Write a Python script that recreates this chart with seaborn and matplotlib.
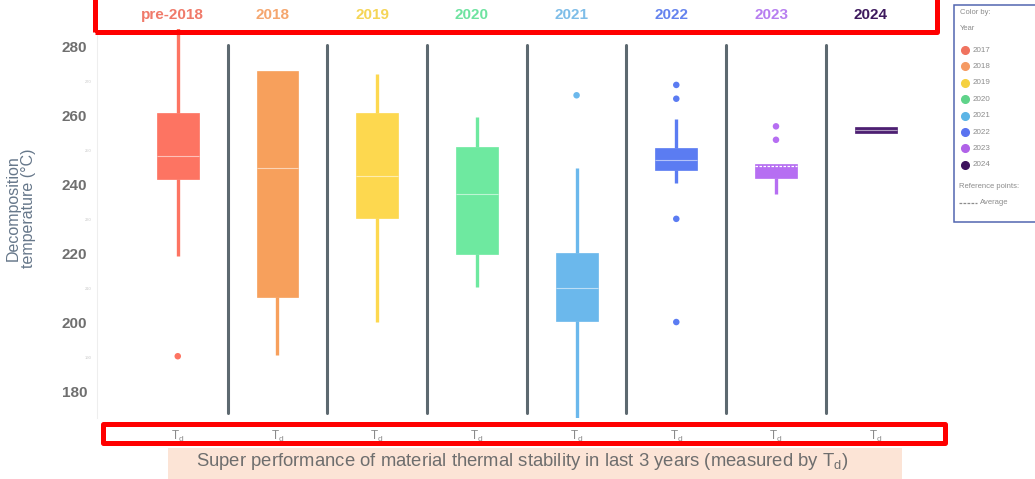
import matplotlib
matplotlib.use("Agg")
import matplotlib.pyplot as plt
import seaborn as sns
import pandas as pd
from matplotlib.patches import Rectangle
from matplotlib.lines import Line2D
from matplotlib.transforms import blended_transform_factory

# ---------------- data ----------------
categories = ["pre-2018", "2018", "2019", "2020", "2021", "2022", "2023", "2024"]
legend_years = ["2017", "2018", "2019", "2020", "2021", "2022", "2023", "2024"]
box_colors = ["#fd7462", "#f7a05c", "#fdd84f", "#6ee9a0", "#6bb8ec", "#5b7cf2", "#b66ef2", "#4d1f72"]
label_colors = ["#f07a6a", "#f5a66e", "#f5d556", "#6ee3a0", "#7ebde8", "#6583ee", "#b77ef0", "#3e1a5e"]
legend_colors = ["#f0735f", "#f59a63", "#f5d13f", "#5fd38a", "#5cb5e6", "#5a73f0", "#b062e8", "#3e135e"]

q1 = [241.7, 207.5, 230.3, 219.8, 200.4, 244.3, 241.9, 254.9]
med = [248.3, 244.9, 242.5, 237.2, 210.0, 247.1, 245.2, 255.8]
q3 = [260.9, 272.8, 260.9, 251.0, 220.1, 250.7, 246.0, 256.6]
whislo = [219.4, 190.6, 200.3, 210.4, 168.0, 240.4, 237.3, 254.9]
whishi = [287.0, 272.8, 272.1, 259.7, 244.9, 258.9, 246.0, 256.6]

outlier_cat = ["pre-2018", "2021", "2022", "2022", "2022", "2022", "2023", "2023"]
outlier_val = [190.3, 265.9, 268.9, 264.9, 230.1, 200.2, 256.9, 253.0]

average_cat = ["2023"]
average_val = [245.4]

y_ticks = [180, 200, 220, 240, 260, 280]
y_minor = [190, 210, 230, 250, 270]
x_tick_label = "T$_d$"
caption = "Super performance of material thermal stability in last 3 years (measured by T$_d$)"
y_title = "Decomposition\ntemperature (°C)"

# ---------------- style ----------------
sns.set_theme(style="white")
plt.rcParams["font.family"] = ["Liberation Sans", "DejaVu Sans"]
plt.rcParams["mathtext.default"] = "regular"

W, H = 1035, 479
fig = plt.figure(figsize=(W / 100, H / 100), dpi=100)

def fx(px):
    return px / W

def fy(py):
    return 1 - py / H

ax_l, ax_r, ax_t, ax_b = 97, 940, 29, 418
ax = fig.add_axes([fx(ax_l), fy(ax_b), fx(ax_r - ax_l), (ax_b - ax_t) / H])

positions = list(range(len(categories)))
stats = []
for i, c in enumerate(categories):
    stats.append(dict(q1=q1[i], med=med[i], q3=q3[i], whislo=whislo[i],
                      whishi=whishi[i], fliers=[], label=c))

bp = ax.bxp(stats, positions=positions, widths=0.42, patch_artist=True,
            showcaps=False, showfliers=False)
for i, c in enumerate(box_colors):
    bp["boxes"][i].set_facecolor(c)
    bp["boxes"][i].set_edgecolor(c)
    bp["boxes"][i].set_linewidth(0.5)
    for w in bp["whiskers"][2 * i:2 * i + 2]:
        w.set_color(c)
        w.set_linewidth(2.4)
        w.set_solid_capstyle("butt")
    m = bp["medians"][i]
    m.set_color("white")
    m.set_alpha(0.55)
    m.set_linewidth(0.8)
    if categories[i] in average_cat:
        m.set_visible(False)

# average reference lines (dashed)
for c, v in zip(average_cat, average_val):
    i = categories.index(c)
    ax.hlines(v, i - 0.21, i + 0.21, colors="white", linestyles=(0, (2, 1.2)), linewidth=0.9, zorder=5)

# outliers
odf = pd.DataFrame({"x": [categories.index(c) for c in outlier_cat],
                    "y": outlier_val, "cat": outlier_cat})
sns.scatterplot(data=odf, x="x", y="y", hue="cat",
                palette={c: box_colors[categories.index(c)] for c in categories},
                s=22, edgecolor="none", legend=False, ax=ax, zorder=4)

# separators between categories
for i in range(len(categories) - 1):
    ax.axvline(i + 0.5, ymin=(ax_b - 413) / (ax_b - ax_t), ymax=(ax_b - 45) / (ax_b - ax_t),
               color="#5d6970", linewidth=2.2, zorder=1)

ax.set_xlim(-0.81, 7.645)
ax.set_ylim(172.4, 285.1)
ax.set_xlabel("")
ax.set_ylabel("")
ax.set_yticks(y_ticks)
ax.set_yticklabels([str(t) for t in y_ticks], fontsize=11, fontweight="bold", color="#6f6f6f")
ax.set_yticks(y_minor, minor=True)
ax.set_yticklabels([str(t) for t in y_minor], minor=True, fontsize=3, color="#c8c8c8")
ax.tick_params(axis="y", which="major", length=0, pad=7)
ax.tick_params(axis="y", which="minor", length=0, pad=4)
ax.set_xticks(positions)
ax.set_xticklabels([x_tick_label] * len(categories), fontsize=8.5, color="#8a8a8a")
ax.tick_params(axis="x", length=0, pad=7.5)
for s in ["top", "right", "bottom"]:
    ax.spines[s].set_visible(False)
ax.spines["left"].set_color("#eeeeee")
ax.spines["left"].set_linewidth(0.8)
ax.grid(False)

# category titles on top
trans = blended_transform_factory(ax.transData, ax.transAxes)
for i, c in enumerate(categories):
    ax.text(i - 0.05, (ax_b - 15) / (ax_b - ax_t), c, transform=trans, ha="center", va="center",
            fontsize=11, fontweight="bold", color=label_colors[i], clip_on=False)

# y title
fig.text(fx(21), fy(208), y_title, rotation=90, ha="center", va="center",
         fontsize=11.5, color="#66778a", linespacing=1.0)

# red highlight rectangles
for (l, t, r, b) in [(94.5, -10, 936.5, 31.5), (102.5, 423.5, 944.5, 442.5)]:
    fig.add_artist(Rectangle((fx(l), fy(b)), fx(r - l), (b - t) / H, transform=fig.transFigure,
                             fill=False, edgecolor="#ff0000", linewidth=3.6, joinstyle="round",
                             clip_on=False, zorder=10))

# caption band
fig.add_artist(Rectangle((fx(168), fy(479)), fx(902 - 168), (479 - 448) / H,
                         transform=fig.transFigure, facecolor="#fce4d6", edgecolor="none", zorder=0))
fig.text(fx(522), fy(462), caption, ha="center", va="center", fontsize=13.3, color="#6e6e6e")

# legend panel
fig.add_artist(Rectangle((fx(954), fy(221.5)), fx(100), (221.5 - 5) / H, transform=fig.transFigure,
                         facecolor="white", edgecolor="#5266b0", linewidth=1.1, clip_on=False, zorder=3))
lg_txt = "#8c8c8c"
fig.text(fx(960), fy(12.7), "Color by:", fontsize=5.5, color=lg_txt, va="center", zorder=4)
fig.text(fx(960), fy(28), "Year", fontsize=5.5, color=lg_txt, va="center", zorder=4)
for k, (yr, c) in enumerate(zip(legend_years, legend_colors)):
    yy = 50 + k * 16.4
    fig.add_artist(Line2D([fx(965)], [fy(yy)], marker="o", markersize=5.5, color=c,
                          linestyle="none", transform=fig.transFigure, zorder=4))
    fig.text(fx(973), fy(yy), yr, fontsize=5.8, color=lg_txt, va="center", zorder=4)
fig.text(fx(959), fy(186), "Reference points:", fontsize=5.5, color=lg_txt, va="center", zorder=4)
fig.add_artist(Line2D([fx(959), fx(977)], [fy(203), fy(203)], color=lg_txt, linewidth=0.9,
                      linestyle=(0, (2.2, 1)), transform=fig.transFigure, zorder=4))
fig.text(fx(980), fy(203), "Average", fontsize=5.5, color=lg_txt, va="center", zorder=4)

fig.savefig("out.png", dpi=100)
